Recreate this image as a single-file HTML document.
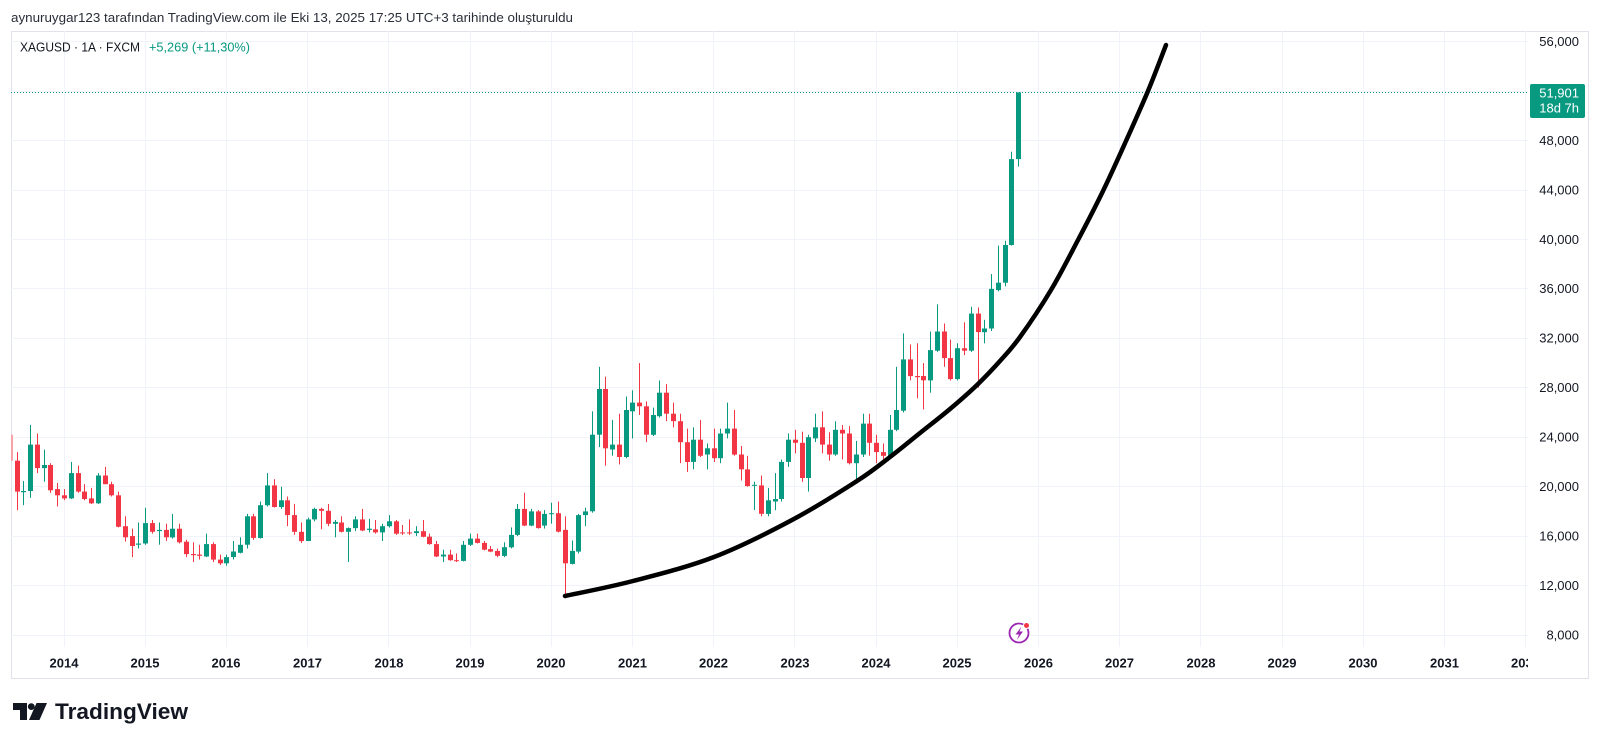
<!DOCTYPE html>
<html>
<head>
<meta charset="utf-8">
<style>
html,body{margin:0;padding:0;background:#fff;width:1600px;height:745px;overflow:hidden;}
svg{display:block;}
text{font-family:"Liberation Sans",Arial,sans-serif;}
</style>
</head>
<body>
<svg id="c" width="1600" height="745" viewBox="0 0 1600 745" xmlns="http://www.w3.org/2000/svg">
<defs>
<clipPath id="pane"><rect x="11" y="31" width="1517" height="616"/></clipPath>
<clipPath id="taxis"><rect x="11" y="647" width="1517" height="31"/></clipPath>
</defs>
<rect width="1600" height="745" fill="#fff"/>
<text x="11" y="22" font-size="13" fill="#2a2e39" textLength="562" lengthAdjust="spacingAndGlyphs">aynuruygar123 tarafından TradingView.com ile Eki 13, 2025 17:25 UTC+3 tarihinde oluşturuldu</text>
<rect x="11.5" y="31.5" width="1577" height="647" fill="none" stroke="#e0e3eb" stroke-width="1"/>

<g stroke="#f0f3fa" stroke-width="1">
<line x1="11" x2="1528" y1="41.5" y2="41.5"/>
<line x1="11" x2="1528" y1="91.5" y2="91.5"/>
<line x1="11" x2="1528" y1="140.5" y2="140.5"/>
<line x1="11" x2="1528" y1="190.5" y2="190.5"/>
<line x1="11" x2="1528" y1="239.5" y2="239.5"/>
<line x1="11" x2="1528" y1="288.5" y2="288.5"/>
<line x1="11" x2="1528" y1="338.5" y2="338.5"/>
<line x1="11" x2="1528" y1="387.5" y2="387.5"/>
<line x1="11" x2="1528" y1="437.5" y2="437.5"/>
<line x1="11" x2="1528" y1="486.5" y2="486.5"/>
<line x1="11" x2="1528" y1="536.5" y2="536.5"/>
<line x1="11" x2="1528" y1="585.5" y2="585.5"/>
<line x1="11" x2="1528" y1="635.5" y2="635.5"/>
<line x1="64.5" x2="64.5" y1="31" y2="647"/>
<line x1="145.5" x2="145.5" y1="31" y2="647"/>
<line x1="226.5" x2="226.5" y1="31" y2="647"/>
<line x1="307.5" x2="307.5" y1="31" y2="647"/>
<line x1="388.5" x2="388.5" y1="31" y2="647"/>
<line x1="470.5" x2="470.5" y1="31" y2="647"/>
<line x1="551.5" x2="551.5" y1="31" y2="647"/>
<line x1="632.5" x2="632.5" y1="31" y2="647"/>
<line x1="713.5" x2="713.5" y1="31" y2="647"/>
<line x1="794.5" x2="794.5" y1="31" y2="647"/>
<line x1="876.5" x2="876.5" y1="31" y2="647"/>
<line x1="957.5" x2="957.5" y1="31" y2="647"/>
<line x1="1038.5" x2="1038.5" y1="31" y2="647"/>
<line x1="1119.5" x2="1119.5" y1="31" y2="647"/>
<line x1="1200.5" x2="1200.5" y1="31" y2="647"/>
<line x1="1282.5" x2="1282.5" y1="31" y2="647"/>
<line x1="1363.5" x2="1363.5" y1="31" y2="647"/>
<line x1="1444.5" x2="1444.5" y1="31" y2="647"/>
<line x1="1525.5" x2="1525.5" y1="31" y2="647"/>
</g>

<line x1="11" x2="1528" y1="92.5" y2="92.5" stroke="#089981" stroke-width="1" stroke-dasharray="1 2"/>

<g id="candles" clip-path="url(#pane)"></g>

<path id="curve" clip-path="url(#pane)" fill="none" stroke="#000" stroke-width="4.5" stroke-linecap="round" stroke-linejoin="round" d=""/>

<!-- lightning icon -->
<circle cx="1019" cy="633" r="9.5" fill="#fff" stroke="#9c27b0" stroke-width="1.8"/>
<path d="M1021.5 626.5 L1015.5 634.5 L1019 634.5 L1016.8 640 L1023 631.5 L1019.5 631.5 Z" fill="#9c27b0"/>
<circle cx="1026.5" cy="625.5" r="3" fill="#f23645" stroke="#fff" stroke-width="1"/>

<!-- legend -->
<text x="20" y="51.5" font-size="13" fill="#131722" textLength="120" lengthAdjust="spacingAndGlyphs">XAGUSD · 1A · FXCM</text>
<text x="149" y="51.5" font-size="13" fill="#089981" textLength="101" lengthAdjust="spacingAndGlyphs">+5,269 (+11,30%)</text>

<!-- price axis -->
<g font-size="13" fill="#131722" text-anchor="end">
<text x="1579" y="46">56,000</text>
<text x="1579" y="145">48,000</text>
<text x="1579" y="194.5">44,000</text>
<text x="1579" y="244">40,000</text>
<text x="1579" y="293">36,000</text>
<text x="1579" y="342.5">32,000</text>
<text x="1579" y="392">28,000</text>
<text x="1579" y="441.5">24,000</text>
<text x="1579" y="491">20,000</text>
<text x="1579" y="540.5">16,000</text>
<text x="1579" y="590">12,000</text>
<text x="1579" y="639.5">8,000</text>
</g>
<rect x="1530" y="84" width="55" height="34" rx="2" fill="#089981"/>
<text x="1579" y="97.5" font-size="13" fill="#fff" text-anchor="end">51,901</text>
<text x="1579" y="112.5" font-size="13" fill="#fff" text-anchor="end">18d 7h</text>

<!-- time axis -->
<g font-size="13" font-weight="bold" fill="#131722" text-anchor="middle" clip-path="url(#taxis)">
<text x="64" y="667.5">2014</text>
<text x="145" y="667.5">2015</text>
<text x="226" y="667.5">2016</text>
<text x="307.5" y="667.5">2017</text>
<text x="389" y="667.5">2018</text>
<text x="470" y="667.5">2019</text>
<text x="551" y="667.5">2020</text>
<text x="632.5" y="667.5">2021</text>
<text x="713.5" y="667.5">2022</text>
<text x="795" y="667.5">2023</text>
<text x="876" y="667.5">2024</text>
<text x="957" y="667.5">2025</text>
<text x="1038.5" y="667.5">2026</text>
<text x="1119.5" y="667.5">2027</text>
<text x="1201" y="667.5">2028</text>
<text x="1282" y="667.5">2029</text>
<text x="1363" y="667.5">2030</text>
<text x="1444.5" y="667.5">2031</text>
<text x="1525.5" y="667.5">2032</text>
</g>

<!-- TradingView logo -->
<g fill="#131722">
<path d="M13 703 H27 V720 H20 V710 H13 Z"/>
<circle cx="31.3" cy="706.6" r="3.4"/>
<path d="M36.5 703 H47 L39.5 720 H29 Z"/>
</g>
<text x="55" y="719" font-size="22" font-weight="bold" fill="#131722" textLength="133" lengthAdjust="spacingAndGlyphs">TradingView</text>
</svg>

<script>
(function(){
var D=[
[24.2,24.4,20.8,22.1],[22.1,22.8,18.1,19.6],[19.55,20.45,18.5,19.65],[19.65,25.0,19.1,23.4],
[23.4,24.3,21.1,21.5],[21.5,23.0,20.4,21.75],[21.75,21.9,19.5,19.7],[19.8,20.3,18.4,19.3],
[19.3,19.8,18.9,19.05],[19.05,22.0,19.0,21.1],[21.1,21.7,19.5,19.6],[19.6,20.2,18.9,19.0],
[19.05,19.9,18.6,18.65],[18.65,21.1,18.6,20.9],[20.9,21.6,20.2,20.2],[20.2,20.4,19.2,19.3],
[19.3,19.6,16.7,16.75],[16.8,17.6,15.55,15.9],[16.0,16.6,14.3,15.2],[15.3,17.1,15.0,15.4],
[15.4,18.3,15.3,17.05],[17.05,17.3,16.2,16.35],[16.4,17.1,15.3,16.5],[16.5,17.0,15.6,15.9],
[15.9,17.8,15.8,16.6],[16.6,17.0,15.4,15.5],[15.55,15.7,14.3,14.55],[14.55,15.5,13.9,14.45],
[14.5,15.3,14.1,14.4],[14.35,16.2,14.3,15.35],[15.35,15.5,13.9,14.1],[14.1,14.5,13.65,13.8],
[13.8,14.5,13.6,14.3],[14.3,15.6,14.1,14.75],[14.65,15.9,14.6,15.3],[15.3,17.8,15.0,17.6],
[17.6,17.8,15.7,15.85],[15.85,18.8,15.8,18.5],[18.5,21.1,18.4,20.1],[20.1,20.6,18.3,18.35],
[18.35,20.0,18.2,18.9],[18.9,19.2,16.8,17.7],[17.7,18.6,16.1,16.35],[16.35,17.1,15.45,15.6],
[15.6,17.5,15.6,17.35],[17.35,18.3,17.2,18.2],[18.2,18.3,16.55,18.05],[18.05,18.6,16.8,17.0],
[17.0,17.3,15.9,17.15],[17.1,17.6,16.3,16.35],[16.35,16.7,13.9,16.65],[16.65,17.6,16.4,17.35],
[17.35,18.2,16.4,16.45],[16.5,17.4,16.3,16.6],[16.55,17.3,16.2,16.3],[16.3,17.0,15.6,16.8],
[16.8,17.7,16.7,17.2],[17.2,17.3,16.1,16.2],[16.3,16.9,16.1,16.25],[16.3,17.35,16.1,16.25],
[16.25,16.8,16.0,16.4],[16.4,17.3,15.9,15.95],[15.95,16.2,15.3,15.35],[15.35,15.6,14.3,14.35],
[14.35,14.9,13.9,14.5],[14.5,14.9,14.0,14.05],[14.05,14.6,13.9,14.0],[14.0,15.6,13.95,15.3],
[15.3,16.2,15.2,15.8],[15.8,16.2,15.4,15.45],[15.45,15.6,14.85,14.9],[14.95,15.2,14.7,14.75],
[14.8,15.0,14.3,14.4],[14.4,15.5,14.3,15.1],[15.1,16.7,15.0,16.1],[16.1,18.6,16.0,18.2],
[18.2,19.5,16.8,16.85],[16.85,18.2,16.8,18.0],[18.0,18.1,16.6,16.65],[16.85,18.1,16.6,17.8],
[17.8,18.7,17.0,17.85],[17.85,18.8,16.3,16.35],[16.5,17.6,11.2,13.8],[13.75,15.65,13.7,14.8],
[14.75,17.8,14.6,17.7],[17.7,18.3,16.8,18.0],[18.0,26.1,17.9,24.2],[24.2,29.7,23.2,27.9],
[27.9,28.9,21.7,23.1],[23.0,25.4,22.5,23.4],[23.4,25.9,21.8,22.4],[22.4,27.3,22.3,26.2],
[26.1,27.8,23.9,26.8],[26.8,30.0,25.8,26.5],[26.5,26.9,23.6,24.2],[24.2,26.4,24.1,25.8],
[25.7,28.6,25.6,27.6],[27.6,28.3,25.3,25.9],[25.9,26.8,24.8,25.3],[25.3,25.9,21.9,23.6],
[23.6,24.7,21.2,22.0],[22.0,24.8,21.4,23.8],[23.8,25.4,22.4,22.5],[22.6,23.5,21.4,23.1],
[23.1,24.7,22.0,22.3],[22.3,24.7,21.9,24.3],[24.3,26.8,23.9,24.7],[24.7,26.2,22.5,22.6],
[22.6,23.3,20.5,21.4],[21.4,22.5,20.0,20.05],[20.1,20.4,18.1,20.15],[20.1,20.9,17.6,17.8],
[17.8,19.9,17.6,18.9],[18.8,21.1,18.1,19.0],[19.0,22.2,18.8,22.0],[22.0,24.3,21.6,23.8],
[23.8,24.6,22.7,23.55],[23.55,24.45,20.4,20.7],[20.7,24.2,19.6,24.0],[23.9,25.9,23.6,24.8],
[24.8,26.1,22.7,23.4],[23.4,24.4,22.1,22.6],[22.6,25.3,22.5,24.6],[24.6,25.0,22.2,24.3],
[24.3,24.9,21.8,21.9],[21.9,23.7,20.6,22.6],[22.6,25.9,22.4,25.1],[25.1,25.9,22.5,23.55],
[23.55,24.2,21.9,22.8],[22.8,23.5,21.9,22.5],[22.5,25.8,22.4,24.6],[24.6,29.7,24.5,26.2],
[26.15,32.4,26.0,30.3],[30.3,31.5,28.6,28.95],[28.95,31.6,27.15,28.85],[28.95,30.0,26.25,28.6],
[28.6,32.55,27.6,31.05],[31.0,34.75,30.9,32.55],[32.55,33.2,29.7,30.4],[30.4,31.9,28.6,28.7],
[28.7,31.6,28.6,31.2],[31.2,33.3,30.65,31.0],[31.0,34.55,30.9,34.0],[34.0,34.5,28.0,32.5],
[32.5,33.5,31.6,32.8],[32.8,37.2,32.6,36.0],[35.9,39.5,35.8,36.5],[36.5,39.9,36.2,39.55],
[39.55,47.1,39.5,46.5],[46.5,51.9,45.9,51.9]
];
function Y(p){return 41.7+(56-p)*12.36;}
var s='';
for(var i=0;i<D.length;i++){
  var m=-8+i, x=64+m*6.767, cx=Math.round(x);
  var o=D[i][0],h=D[i][1],l=D[i][2],c=D[i][3];
  var col=c>=o?'#089981':'#f23645';
  if(i===0) col='#f7a1a9';
  s+='<rect x="'+cx+'" y="'+Y(h).toFixed(1)+'" width="1" height="'+(Y(l)-Y(h)).toFixed(1)+'" fill="'+col+'"/>';
  var t=Y(Math.max(o,c)), b=Y(Math.min(o,c));
  var hh=Math.max(1,b-t);
  s+='<rect x="'+(cx-2)+'" y="'+t.toFixed(1)+'" width="5" height="'+hh.toFixed(1)+'" fill="'+col+'"/>';
}
document.getElementById('candles').innerHTML=s;

// smooth curve (Catmull-Rom -> cubic Bezier)
var P=[[565,596],[633,581],[714,557],[792,520],[857,481],[890,457],[920,433],[950,409],[977,385],[1000,361],[1020,337],[1051,290],[1078,240],[1103,191],[1126,141],[1148,91],[1166,45]];
var d='M'+P[0][0]+' '+P[0][1];
for(var k=0;k<P.length-1;k++){
  var p0=P[k>0?k-1:0],p1=P[k],p2=P[k+1],p3=P[k+2<P.length?k+2:P.length-1];
  var c1x=p1[0]+(p2[0]-p0[0])/6,c1y=p1[1]+(p2[1]-p0[1])/6;
  var c2x=p2[0]-(p3[0]-p1[0])/6,c2y=p2[1]-(p3[1]-p1[1])/6;
  d+=' C'+c1x.toFixed(1)+' '+c1y.toFixed(1)+' '+c2x.toFixed(1)+' '+c2y.toFixed(1)+' '+p2[0]+' '+p2[1];
}
document.getElementById('curve').setAttribute('d',d);
})();
</script>
</body>
</html>
